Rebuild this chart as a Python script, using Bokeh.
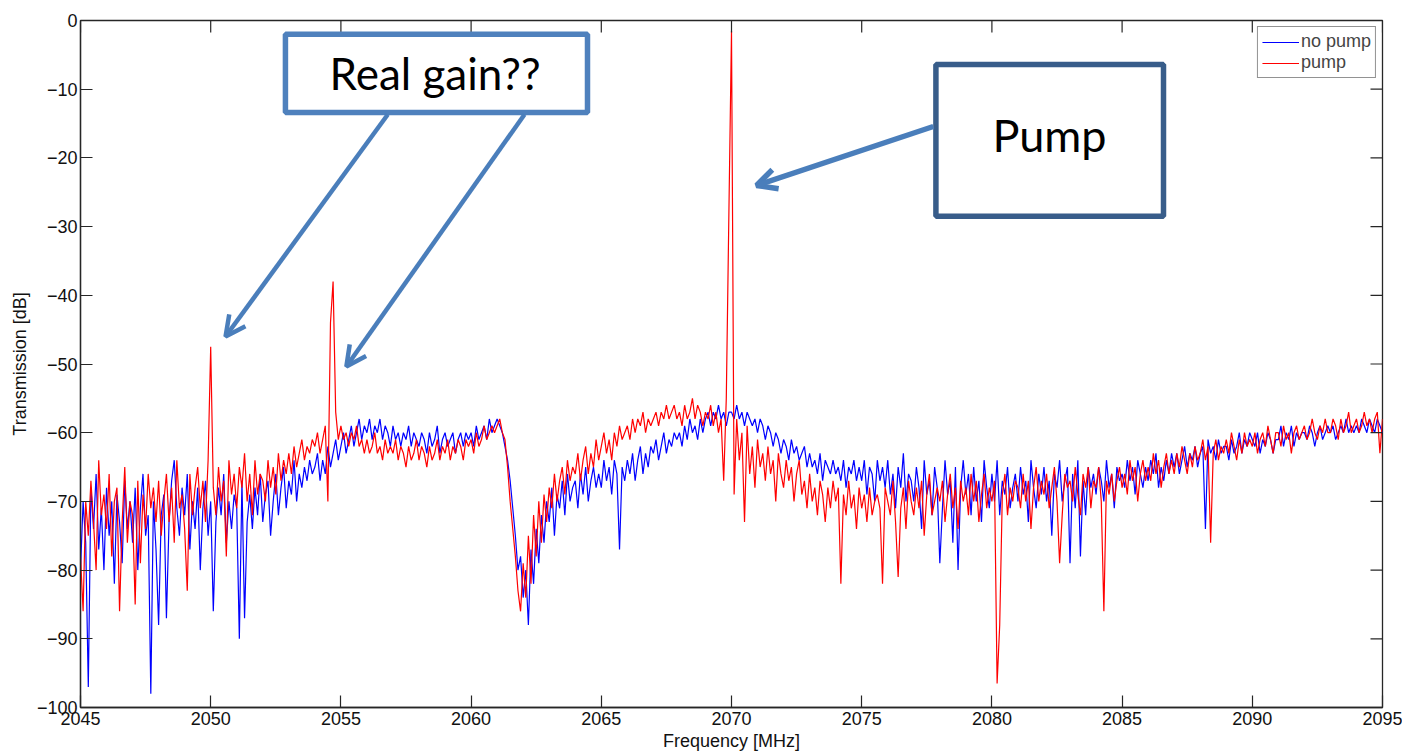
import numpy as np
from bokeh.plotting import figure
from bokeh.models import (Range1d, FixedTicker, BoxAnnotation, Label, Arrow,
                          OpenHead)
from bokeh.embed import file_html
from bokeh.resources import INLINE

# Frequency sweep: 2045 MHz to 2095 MHz in 0.1 MHz steps
freq_start = 2045.0
freq_step = 0.1

# Transmission without pump [dB], one row per MHz
no_pump_db = [
    -80, -70, -76, -97, -68, -74, -66, -77, -71, -80,
    -68, -75, -70, -82, -69, -73, -79, -67, -74, -70,
    -76, -68, -80, -71, -66, -75, -72, -98, -70, -77,
    -88, -72, -69, -87, -73, -67, -64, -71, -75, -68,
    -72, -66, -77, -70, -74, -68, -80, -71, -67, -75,
    -70, -86, -73, -68, -72, -66, -76, -70, -74, -69,
    -71, -90, -67, -87, -73, -69, -74, -68, -72, -66,
    -73, -69, -67, -75, -70, -66, -72, -68, -65, -71,
    -67, -69, -64, -70, -66, -68, -65, -67, -64, -66,
    -65, -63, -67, -64, -66, -62, -65, -63, -61, -64,
    -62, -60, -63, -61, -59, -62, -60, -58, -61, -59,
    -60, -58, -61, -59, -60, -58, -61, -59, -60, -62,
    -59, -61, -60, -62, -60, -61, -59, -62, -60, -61,
    -62, -60, -61, -63, -60, -62, -61, -59, -63, -61,
    -60, -62, -61, -60, -63, -61, -60, -62, -60, -61,
    -60, -62, -59, -61, -60, -59, -61, -58, -60, -59,
    -58, -59, -60, -62, -64, -67, -71, -75, -80, -78,
    -84, -80, -88, -77, -82, -74, -79, -72, -76, -70,
    -73, -68, -75, -69, -71, -67, -72, -66, -70, -68,
    -67, -71, -66, -69, -65, -70, -67, -65, -68, -66,
    -68, -64, -67, -65, -69, -64, -66, -77, -65, -67,
    -64, -66, -63, -67, -64, -62, -66, -63, -65, -62,
    -63, -61, -64, -62, -60, -63, -61, -62, -60, -61,
    -60, -62, -59, -61, -58, -60, -59, -61, -58, -60,
    -58, -57, -59, -57, -58, -56, -58, -57, -59, -57,
    -57, -58, -56, -58, -57, -59, -57, -58, -59, -58,
    -60, -58, -59, -61, -59, -60, -62, -60, -61, -63,
    -61, -62, -64, -61, -63, -62, -64, -63, -62, -65,
    -63, -65, -64, -66, -63, -67, -64, -65, -66, -64,
    -66, -65, -67, -64, -68, -65, -66, -64, -67, -65,
    -67, -64, -69, -65, -66, -70, -64, -67, -65, -68,
    -64, -69, -66, -71, -65, -68, -63, -70, -66, -67,
    -70, -65, -68, -74, -64, -69, -67, -72, -65, -68,
    -79, -71, -64, -69, -67, -76, -65, -80, -68, -64,
    -69, -66, -72, -65, -70, -67, -73, -64, -68, -71,
    -66, -70, -64, -72, -67, -69, -65, -71, -68, -66,
    -70, -65, -69, -67, -73, -64, -68, -71, -66, -69,
    -65, -70, -67, -75, -66, -68, -64, -70, -67, -65,
    -79, -66, -71, -64, -78, -67, -72, -65, -68, -66,
    -69, -65, -67, -70, -64, -68, -66, -71, -65, -67,
    -66, -68, -64, -67, -65, -69, -64, -66, -68, -65,
    -67, -64, -66, -63, -68, -65, -67, -64, -66, -63,
    -65, -63, -66, -64, -62, -65, -63, -64, -62, -65,
    -63, -62, -74, -61, -63, -62, -64, -61, -63, -62,
    -62, -64, -61, -63, -62, -60, -63, -61, -62, -60,
    -61, -62, -60, -63, -61, -62, -60, -61, -63, -61,
    -61, -59, -62, -60, -61, -59, -62, -60, -61, -60,
    -60, -61, -59, -60, -62, -60, -59, -61, -60, -59,
    -60, -59, -61, -60, -59, -60, -58, -60, -59, -60,
    -59, -60, -58, -59, -60, -58, -59, -60, -58, -59,
    -60,
]

# Transmission with pump on [dB], one row per MHz
pump_db = [
    -78, -86, -70, -75, -67, -73, -80, -64, -72, -69,
    -74, -66, -78, -70, -68, -86, -73, -65, -76, -70,
    -72, -85, -67, -79, -69, -74, -66, -71, -68, -73,
    -67, -75, -70, -66, -73, -68, -76, -64, -71, -69,
    -74, -83, -66, -72, -68, -65, -71, -67, -73, -64,
    -47.5, -68, -72, -65, -70, -67, -78, -64, -69, -66,
    -71, -65, -68, -63, -70, -66, -72, -64, -69, -66,
    -67, -70, -64, -68, -65, -69, -63, -67, -64, -66,
    -63, -66, -62, -65, -63, -61, -64, -62, -63, -61,
    -62, -60, -63, -61, -59, -70, -44, -38, -57, -61,
    -59, -61, -60, -62, -60, -61, -59, -62, -61, -63,
    -61, -63, -62, -60, -63, -62, -64, -61, -63, -62,
    -63, -61, -64, -62, -63, -65, -62, -64, -63, -61,
    -64, -62, -63, -65, -62, -64, -63, -61, -64, -62,
    -63, -61, -64, -62, -63, -61, -62, -64, -61, -62,
    -61, -63, -60, -62, -61, -59, -61, -60, -59, -60,
    -59, -58, -60, -61, -65, -70, -74, -78, -83, -86,
    -79, -84, -75, -82, -72, -78, -70, -76, -69, -73,
    -68, -71, -66, -70, -67, -65, -69, -64, -67, -65,
    -66, -63, -67, -64, -62, -66, -63, -65, -61, -64,
    -62, -60, -63, -61, -64, -60, -62, -59, -61, -60,
    -59, -61, -58, -60, -58, -59, -57, -60, -58, -59,
    -58, -57, -59, -57, -58, -56, -58, -57, -56, -58,
    -57, -59, -56, -58, -57, -55, -58, -56, -57, -59,
    -57, -58, -56, -59, -57, -60, -58, -67, -55, -28,
    -1.5, -69, -58, -64, -60, -73, -59, -66, -62, -68,
    -61, -65, -63, -67, -62, -66, -64, -70, -63, -66,
    -68, -64, -67, -65, -70, -66, -64, -69, -67, -71,
    -66, -70, -68, -72, -67, -69, -73, -68, -71, -67,
    -70, -68, -82, -69, -72, -67, -71, -69, -74, -68,
    -71, -69, -73, -68, -72, -70, -69, -71, -82, -68,
    -70, -72, -67, -73, -81, -71, -68, -74, -67, -70,
    -72, -68, -71, -67, -75, -69, -66, -72, -70, -68,
    -70, -67, -73, -69, -66, -71, -68, -74, -67, -70,
    -68, -72, -66, -70, -67, -73, -69, -66, -71, -68,
    -70, -67, -96.5, -88, -69, -66, -72, -68, -70, -67,
    -68, -71, -66, -70, -67, -74, -68, -65, -70, -67,
    -69, -66, -71, -68, -65, -70, -79, -72, -66, -68,
    -67, -70, -65, -69, -72, -66, -68, -65, -71, -67,
    -68, -65, -70, -86, -67, -69, -66, -70, -67, -65,
    -68, -66, -69, -64, -67, -65, -70, -66, -64, -67,
    -65, -67, -63, -66, -64, -68, -65, -63, -66, -64,
    -66, -63, -65, -62, -64, -66, -63, -65, -62, -64,
    -63, -61, -64, -62, -76, -63, -61, -64, -62, -63,
    -61, -63, -60, -62, -64, -61, -63, -60, -62, -61,
    -62, -60, -63, -61, -60, -62, -59, -61, -63, -60,
    -60, -62, -59, -61, -60, -63, -60, -59, -61, -60,
    -59, -61, -60, -58, -60, -61, -59, -60, -58, -60,
    -60, -58, -59, -61, -58, -60, -59, -57, -60, -59,
    -58, -60, -59, -57, -59, -58, -60, -58, -57, -63,
    -58,
]

x_ticks = [2045, 2050, 2055, 2060, 2065, 2070, 2075, 2080, 2085, 2090, 2095]
y_ticks = [-100, -90, -80, -70, -60, -50, -40, -30, -20, -10, 0]

freq = np.round(freq_start + freq_step * np.arange(len(no_pump_db)), 2)

AXIS_FONT = "Liberation Sans"
AXIS_COLOR = "#262626"
X_MIN, X_MAX, Y_MIN, Y_MAX = 2045, 2095, -100, 0
FRAME_W, FRAME_H = 1302, 687
TICK_PX = 12

p = figure(width=1402, height=755, output_backend="svg", toolbar_location=None,
           x_range=Range1d(X_MIN, X_MAX), y_range=Range1d(Y_MIN, Y_MAX),
           min_border_left=80, min_border_right=20,
           min_border_top=20, min_border_bottom=48,
           x_axis_label="Frequency [MHz]", y_axis_label="Transmission [dB]")
p.grid.visible = False
p.outline_line_color = AXIS_COLOR
p.outline_line_width = 1.3
p.outline_line_alpha = 1
p.background_fill_color = "white"
p.border_fill_color = "white"

p.line(freq, no_pump_db, line_color="#0000ff", line_width=1.2, legend_label="no pump")
p.line(freq, pump_db, line_color="#ff0000", line_width=1.2, legend_label="pump")

p.xaxis.ticker = FixedTicker(ticks=x_ticks)
p.yaxis.ticker = FixedTicker(ticks=y_ticks)

for ax in p.axis:
    ax.minor_tick_line_color = None
    ax.minor_tick_in = 0
    ax.minor_tick_out = 0
    ax.major_tick_in = TICK_PX
    ax.major_tick_out = 0
    ax.axis_line_color = AXIS_COLOR
    ax.axis_line_width = 1.3
    ax.major_tick_line_color = AXIS_COLOR
    ax.major_tick_line_width = 1.2
    ax.major_label_text_font = AXIS_FONT
    ax.major_label_text_font_size = "18px"
    ax.major_label_text_color = "#111111"
    ax.axis_label_text_font = AXIS_FONT
    ax.axis_label_text_font_size = "18px"
    ax.axis_label_text_font_style = "normal"
    ax.axis_label_text_color = "#111111"
p.xaxis.major_label_standoff = 4
p.xaxis.axis_label_standoff = 3
p.yaxis.major_label_standoff = 3
p.yaxis.axis_label_standoff = 4

# Inward ticks along the top and right edges of the box
dx = (X_MAX - X_MIN) / FRAME_W * TICK_PX
dy = (Y_MAX - Y_MIN) / FRAME_H * TICK_PX
p.segment(x0=x_ticks, y0=[Y_MAX] * len(x_ticks), x1=x_ticks,
          y1=[Y_MAX - dy] * len(x_ticks), line_color=AXIS_COLOR, line_width=1.2)
p.segment(x0=[X_MAX] * len(y_ticks), y0=y_ticks, x1=[X_MAX - dx] * len(y_ticks),
          y1=y_ticks, line_color=AXIS_COLOR, line_width=1.2)

leg = p.legend[0]
leg.location = "top_right"
leg.margin = 6
leg.padding = 4
leg.spacing = -4
leg.glyph_width = 37
leg.glyph_height = 14
leg.label_height = 14
leg.label_standoff = 2
leg.label_text_font = AXIS_FONT
leg.label_text_font_size = "18px"
leg.border_line_color = AXIS_COLOR
leg.border_line_width = 1
leg.background_fill_color = "white"
leg.background_fill_alpha = 1

# Callout boxes
BOX_BLUE = "#4f81bd"
BOX_DARK = "#385d8a"
ARROW_BLUE = "#4a7ebb"
CALLOUT_FONT = "Lato"

p.add_layout(BoxAnnotation(left=2052.87, right=2064.47, top=-2.0, bottom=-13.4,
                           fill_color="white", fill_alpha=1,
                           line_color=BOX_BLUE, line_width=5.5, line_alpha=1))
p.add_layout(BoxAnnotation(left=2077.85, right=2086.59, top=-6.4, bottom=-28.5,
                           fill_color="white", fill_alpha=1,
                           line_color=BOX_DARK, line_width=5.5, line_alpha=1))

p.add_layout(Label(x=2058.62, y=-7.57, text="Real gain??", text_align="center",
                   text_baseline="alphabetic", text_font=CALLOUT_FONT,
                   text_font_size="44px", text_color="black"))
p.add_layout(Label(x=2082.21, y=-16.6, text="Pump", text_align="center",
                   text_baseline="alphabetic", text_font=CALLOUT_FONT,
                   text_font_size="45px", text_color="black"))

# Arrows from the callouts to the spikes
arrows = [
    (2056.80, -13.68, 2050.57, -46.0, 4.5),
    (2062.05, -13.68, 2055.21, -50.36, 4.5),
    (2077.75, -15.43, 2070.96, -24.02, 5.5),
]
for xs, ys, xe, ye, lw in arrows:
    p.add_layout(Arrow(x_start=xs, y_start=ys, x_end=xe, y_end=ye,
                       line_color=ARROW_BLUE, line_width=lw,
                       end=OpenHead(line_color=ARROW_BLUE, line_width=lw, size=20)))

open("out.html", "w").write(file_html(p, INLINE))
